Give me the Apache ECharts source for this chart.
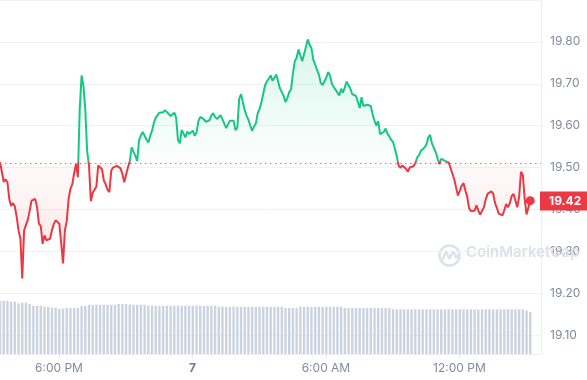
<!DOCTYPE html>
<html>
<head>
<meta charset="utf-8">
<script src="https://cdn.jsdelivr.net/npm/echarts@6/dist/echarts.min.js"></script>
<style>
html,body{margin:0;padding:0;background:#fff;}
#c{width:587px;height:380px;}
</style>
</head>
<body>
<div id="c"></div>
<script>
// ---- data ----
const startMinute = 921;      // 15:21 on the 6th (minutes since midnight of the 6th)
const priceStepMinutes = 5;
const volumeStepMinutes = 10;
const prices = [19.513,19.49,19.466,19.472,19.465,19.425,19.408,19.415,19.407,19.382,
19.35,19.33,19.235,19.35,19.346,19.375,19.397,19.421,19.423,19.425,
19.405,19.366,19.36,19.318,19.338,19.326,19.326,19.33,19.35,19.365,
19.374,19.374,19.366,19.32,19.271,19.35,19.372,19.425,19.449,19.46,
19.487,19.508,19.477,19.64,19.72,19.695,19.64,19.54,19.505,19.42,
19.44,19.438,19.455,19.505,19.508,19.496,19.469,19.46,19.447,19.441,
19.493,19.50,19.502,19.504,19.502,19.498,19.485,19.465,19.465,19.50,
19.515,19.548,19.548,19.528,19.516,19.565,19.577,19.585,19.588,19.567,
19.56,19.575,19.588,19.607,19.619,19.618,19.631,19.627,19.632,19.637,
19.635,19.628,19.623,19.627,19.631,19.619,19.566,19.558,19.59,19.587,
19.572,19.586,19.58,19.58,19.588,19.576,19.584,19.61,19.621,19.621,
19.615,19.609,19.607,19.613,19.624,19.63,19.621,19.616,19.612,19.625,
19.624,19.605,19.594,19.603,19.612,19.61,19.612,19.589,19.595,19.664,
19.675,19.671,19.637,19.624,19.614,19.6,19.588,19.598,19.605,19.63,
19.64,19.656,19.659,19.697,19.706,19.712,19.72,19.707,19.707,19.722,
19.718,19.689,19.686,19.671,19.656,19.666,19.68,19.687,19.725,19.754,
19.762,19.782,19.785,19.754,19.75,19.788,19.806,19.793,19.785,19.757,
19.746,19.733,19.722,19.702,19.697,19.706,19.715,19.728,19.72,19.70,
19.692,19.686,19.683,19.672,19.688,19.679,19.679,19.705,19.705,19.688,
19.675,19.671,19.671,19.657,19.642,19.668,19.647,19.647,19.65,19.65,
19.647,19.627,19.612,19.60,19.611,19.58,19.584,19.585,19.593,19.581,
19.574,19.566,19.561,19.545,19.527,19.505,19.499,19.505,19.502,19.497,
19.49,19.50,19.497,19.503,19.51,19.524,19.529,19.54,19.542,19.548,
19.555,19.572,19.578,19.557,19.547,19.537,19.522,19.508,19.521,19.519,
19.516,19.512,19.512,19.499,19.496,19.472,19.452,19.433,19.437,19.456,
19.463,19.445,19.43,19.403,19.396,19.394,19.397,19.41,19.397,19.388,
19.392,19.405,19.424,19.437,19.437,19.443,19.438,19.415,19.404,19.39,
19.387,19.386,19.398,19.413,19.405,19.415,19.432,19.437,19.441,19.405,
19.43,19.49,19.482,19.425,19.388,19.385,19.421];
const volumes = [53.3,53.3,53,52.3,52.3,50.7,51.3,51.3,50,48.3,
48.3,48.3,47.3,47.3,46.3,46.3,45.3,45.3,46,46,
46,46,48,48,49.3,49.3,49.3,49.3,49.3,49.3,
49.3,49.3,50,50,50,49.3,49.3,49.3,49.3,49.3,
48.3,48.3,48.3,48.3,48.3,48.3,48.3,48.3,48.3,48.3,
48.3,48.3,48.3,48.3,48.3,48.3,48.3,48.3,48.3,47.3,
47.3,47.3,47.3,47.3,47.3,47.3,47.3,47.3,47.3,47.3,
47.3,47.3,47.3,47.3,47.3,47.3,47.3,46,46,46,
46,47.3,47.3,47.3,47.3,47.3,47.3,47.3,47.3,47.3,
47.3,47.3,47.3,46,46,46,46,46,46,46,
46,46,46,46,46,46,44.7,44.7,44.7,44.7,
44.7,44.7,44.7,44.7,44.7,44.7,44.7,44.7,44.7,44.7,
44.7,44.7,44.7,44.7,44.7,44.7,44.7,44.7,44.7,44.7,
44.7,44.7,44.7,44.7,44.7,44.7,44.7,44.7,44.7,44.7,
44.7,44.7,43.5,42];
const baselinePrice = 19.511;
const priceTicks = [19.10,19.20,19.30,19.40,19.50,19.60,19.70,19.80];
const timeTickMinutes = [1080, 1440, 1800, 2160];
const timeTickLabels = ['6:00 PM', '7', '6:00 AM', '12:00 PM'];
const axisMinMinute = 921;
const axisMaxMinute = 2380;

// ---- build ----
const priceData = prices.map((p, i) => [startMinute + i * priceStepMinutes, p]);
const volData = volumes.map((v, i) => [startMinute + i * volumeStepMinutes, v]);
const last = priceData[priceData.length - 1];

const GREEN = '#16c784', RED = '#ea3943';
const chart = echarts.init(document.getElementById('c'), null, {renderer: 'canvas'});

const gridTop = -1.4, gridBottom = 44.9;
const yMin = 19.1, yMax = 19.9;
const plotH = 380 - gridTop - gridBottom;
const py = v => gridTop + (yMax - v) / (yMax - yMin) * plotH;
const maxP = Math.max(...prices), minP = Math.min(...prices);
const gTop = py(maxP), gBot = py(minP), gBase = py(baselinePrice);
const off = (gBase - gTop) / (gBot - gTop);

const areaGrad = new echarts.graphic.LinearGradient(0, gTop, 0, gBot, [
  {offset: 0, color: 'rgba(22,199,132,0.24)'},
  {offset: off, color: 'rgba(22,199,132,0.02)'},
  {offset: off, color: 'rgba(234,57,67,0.03)'},
  {offset: 1, color: 'rgba(234,57,67,0.20)'}
], true);
const lineGrad = new echarts.graphic.LinearGradient(0, gTop, 0, gBot, [
  {offset: 0, color: GREEN},
  {offset: off, color: GREEN},
  {offset: off, color: RED},
  {offset: 1, color: RED}
], true);

const option = {
  backgroundColor: '#fff',
  animation: false,
  textStyle: {fontFamily: 'Inter, "Noto Sans", sans-serif'},
  grid: [
    {left: 0, right: 46, top: gridTop, bottom: gridBottom},
    {left: 0, right: 46, top: 254, bottom: 26}
  ],
  xAxis: [
    {type: 'value', gridIndex: 0, min: axisMinMinute, max: axisMaxMinute, show: false},
    {type: 'value', gridIndex: 1, min: axisMinMinute, max: axisMaxMinute,
      splitLine: {show: false},
      axisLine: {show: true, lineStyle: {color: '#eceff3', width: 1}},
      axisTick: {show: true, customValues: timeTickMinutes, length: 4, lineStyle: {color: '#e3e6ec'}},
      axisLabel: {
        customValues: timeTickMinutes, margin: 8, fontSize: 12, color: '#808a9d',
        fontFamily: 'Inter, sans-serif',
        formatter: v => {
          const k = timeTickMinutes.indexOf(v);
          const t = k >= 0 ? timeTickLabels[k] : '';
          return t === '7' ? '{b|7}' : t;
        },
        rich: {b: {fontWeight: 'bold', color: '#6f7a8f', fontSize: 12, fontFamily: 'Inter, sans-serif'}}
      }
    }
  ],
  yAxis: [
    {type: 'value', gridIndex: 0, position: 'right', min: yMin, max: yMax, interval: 0.1,
      axisLine: {show: true, lineStyle: {color: '#eceff3'}},
      axisTick: {show: false},
      splitLine: {show: true, lineStyle: {color: '#eff2f5', width: 1}},
      axisLabel: {margin: 9, fontSize: 12, color: '#808a9d', showMaxLabel: false,
        fontFamily: 'Inter, sans-serif',
        formatter: v => priceTicks.some(t => Math.abs(t - v) < 1e-6) ? v.toFixed(2) : ''}
    },
    {type: 'value', gridIndex: 1, position: 'right', min: 0, max: 100,
      axisLine: {show: true, lineStyle: {color: '#eceff3'}},
      axisTick: {show: false}, axisLabel: {show: false}, splitLine: {show: false}
    }
  ],
  series: [
    {
      type: 'line', xAxisIndex: 0, yAxisIndex: 0, data: priceData,
      showSymbol: false, symbol: 'none', smooth: false,
      lineStyle: {width: 2, color: lineGrad},
      itemStyle: {color: GREEN},
      areaStyle: {origin: baselinePrice, color: areaGrad},
      markLine: {
        silent: true, symbol: 'none', animation: false,
        lineStyle: {color: '#8a93a6', type: [1.5, 3.5], width: 1},
        label: {show: false},
        data: [
          {yAxis: baselinePrice},
          {yAxis: last[1],
            lineStyle: {color: 'rgba(0,0,0,0)', width: 0},
            label: {show: true, position: 'end', distance: -1,
              formatter: p => Number(p.value).toFixed(2),
              backgroundColor: RED, color: '#fff', fontWeight: 'bold', fontSize: 12,
              fontFamily: 'Inter, sans-serif', lineHeight: 14, padding: [3, 9, 2, 9]}}
        ]
      },
      z: 3
    },
    {
      type: 'scatter', xAxisIndex: 0, yAxisIndex: 0, data: [last],
      symbolSize: 9, itemStyle: {color: RED, opacity: 1}, z: 4
    },
    {
      type: 'bar', xAxisIndex: 1, yAxisIndex: 1, data: volData,
      barWidth: 2.4, itemStyle: {color: '#cbd3e1'}, z: 2
    }
  ],
  graphic: [
    {type: 'group', left: 437, top: 243, z: 1, children: [
      {type: 'circle', shape: {cx: 11, cy: 11, r: 10}, style: {fill: 'none', stroke: '#dde1e8', lineWidth: 2.4}},
      {type: 'polyline', shape: {points: [[4, 15], [7.5, 7], [11, 14], [14.5, 7], [17.5, 13], [19, 11]]},
        style: {fill: 'none', stroke: '#dde1e8', lineWidth: 2.4, lineJoin: 'round', lineCap: 'round'}}
    ]},
    {type: 'text', left: 466, top: 245, z: 1, style: {text: 'CoinMarketCap', fill: '#dde1e8',
      font: '600 15px Inter, sans-serif'}}
  ]
};
chart.setOption(option);
</script>
</body>
</html>
